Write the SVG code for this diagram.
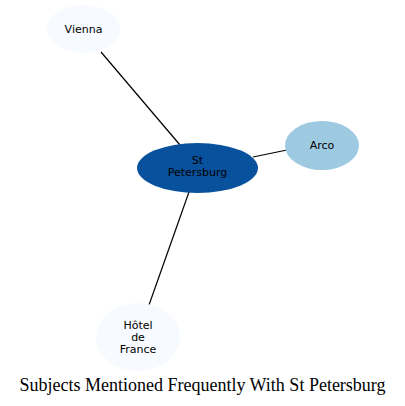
<svg xmlns="http://www.w3.org/2000/svg" width="405" height="406" viewBox="0 0 405 406">
<style>
.lbl{font-family:"DejaVu Sans",sans-serif;font-size:11px;fill:#000;text-anchor:middle}
.edge{stroke:#000;stroke-width:1.2;fill:none}
.title{font-family:"Liberation Serif",serif;font-size:18px;fill:#000;text-anchor:middle}
</style>
<rect width="405" height="406" fill="#fff"/>
<g id="connectors">
<line class="edge" x1="101" y1="52" x2="180" y2="145"/>
<line class="edge" x1="253" y1="157" x2="287" y2="150"/>
<line class="edge" x1="189" y1="192" x2="149" y2="305"/>
</g>
<g id="vienna">
<ellipse cx="83.5" cy="29" rx="36.5" ry="24" fill="#f7fbff"/>
<text class="lbl" x="83.5" y="32.5">Vienna</text>
</g>
<g id="arco">
<ellipse cx="322" cy="145.5" rx="37" ry="24.5" fill="#9ecae1"/>
<text class="lbl" x="322" y="149">Arco</text>
</g>
<g id="stpetersburg">
<ellipse cx="197.5" cy="168" rx="60.5" ry="25" fill="#08519c"/>
<text class="lbl" x="197.5" y="163.5">St</text>
<text class="lbl" x="197.5" y="175.5">Petersburg</text>
</g>
<g id="hotel">
<ellipse cx="138" cy="337" rx="42" ry="34" fill="#f7fbff"/>
<text class="lbl" x="138" y="328.5">Hôtel</text>
<text class="lbl" x="138" y="340.5">de</text>
<text class="lbl" x="138" y="352.5">France</text>
</g>
<text class="title" x="202.5" y="391">Subjects Mentioned Frequently With St Petersburg</text>
</svg>
